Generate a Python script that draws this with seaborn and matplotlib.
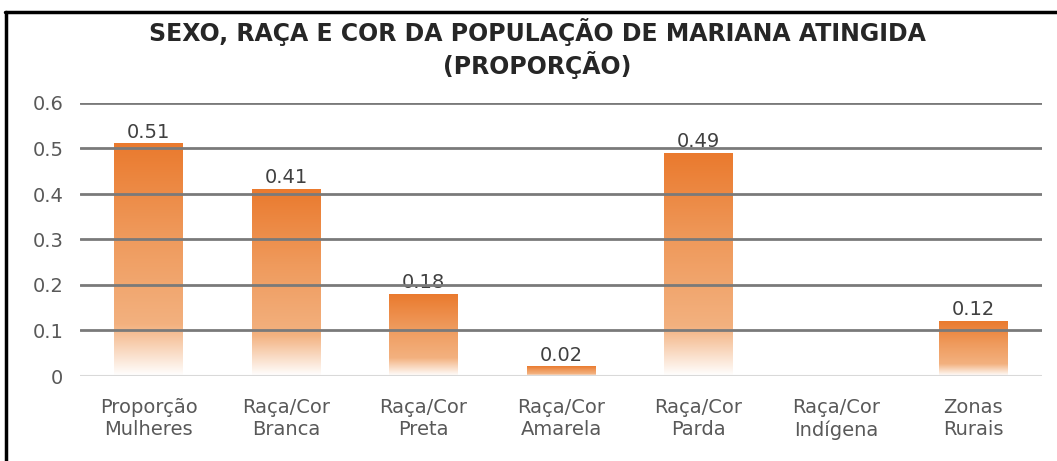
import numpy as np
import pandas as pd
import seaborn as sns
import matplotlib.pyplot as plt
from matplotlib.colors import LinearSegmentedColormap
from matplotlib.lines import Line2D

categorias = ["Proporção\nMulheres", "Raça/Cor\nBranca", "Raça/Cor\nPreta", "Raça/Cor\nAmarela",
              "Raça/Cor\nParda", "Raça/Cor\nIndígena", "Zonas\nRurais"]
valores = [0.51, 0.41, 0.18, 0.02, 0.49, 0.0, 0.12]
rotulos = ["0.51", "0.41", "0.18", "0.02", "0.49", "", "0.12"]
yticks = [0, 0.1, 0.2, 0.3, 0.4, 0.5, 0.6]
ytick_labels = ["0", "0.1", "0.2", "0.3", "0.4", "0.5", "0.6"]

sns.set_style("white")
plt.rcParams["font.family"] = ["DejaVu Sans"]

df = pd.DataFrame({"cat": categorias, "val": valores})

fig = plt.figure(figsize=(10.57, 4.61), dpi=100)
ax = fig.add_axes([80 / 1057, 1 - 376 / 461, (1042 - 80) / 1057, (376 - 103) / 461])

sns.barplot(data=df, x="cat", y="val", ax=ax, width=0.5, color="#ED7D31")

# gradiente laranja -> branco em cada barra
cmap = LinearSegmentedColormap.from_list(
    "grad", [(0, "#FFFFFF"), (0.22, "#F3B17F"), (0.6, "#EF9A5C"), (1, "#EA7A2E")])
grad = np.linspace(0, 1, 256).reshape(-1, 1)
for p in ax.patches:
    x0, y0 = p.get_x(), p.get_y()
    w, h = p.get_width(), p.get_height()
    if h <= 0:
        continue
    p.set_facecolor("none")
    p.set_edgecolor("none")
    ax.imshow(grad, cmap=cmap, aspect="auto", origin="lower",
              extent=[x0, x0 + w, y0, y0 + h], zorder=2)
ax.set_xlim(-0.5, 6.5)
ax.set_ylim(0, 0.6)

# rótulos de dados
for i, (v, r) in enumerate(zip(valores, rotulos)):
    if r:
        ax.text(i, v + 0.005, r, ha="center", va="bottom", fontsize=14, color="#404040", zorder=3)

# linhas de grade por cima
for y in yticks[1:]:
    ax.axhline(y, color="#7A7A7A", lw=2, zorder=4)
ax.axhline(0, color="#D9D9D9", lw=1.5, zorder=4)

for s in ax.spines.values():
    s.set_visible(False)
ax.set_yticks(yticks)
ax.set_yticklabels(ytick_labels)
ax.tick_params(axis="y", length=0, pad=12, labelsize=14, labelcolor="#595959")
ax.tick_params(axis="x", length=0, pad=16, labelsize=14, labelcolor="#595959")
for t in ax.get_xticklabels():
    t.set_linespacing(1.2)
ax.set_xlabel("")
ax.set_ylabel("")

fig.text(537 / 1057, 1 - 18 / 461, "SEXO, RAÇA E COR DA POPULAÇÃO DE MARIANA ATINGIDA\n(PROPORÇÃO)",
         ha="center", va="top", fontsize=17, fontweight="bold", color="#262626",
         linespacing=1.2, transform=fig.transFigure)

# moldura (topo e esquerda)
fig.add_artist(Line2D([5 / 1057, 1], [1 - 12 / 461, 1 - 12 / 461], color="black", lw=2.5,
                      transform=fig.transFigure))
fig.add_artist(Line2D([6 / 1057, 6 / 1057], [0, 1 - 12 / 461], color="black", lw=2.5,
                      transform=fig.transFigure))

fig.savefig("out.png", dpi=100)
